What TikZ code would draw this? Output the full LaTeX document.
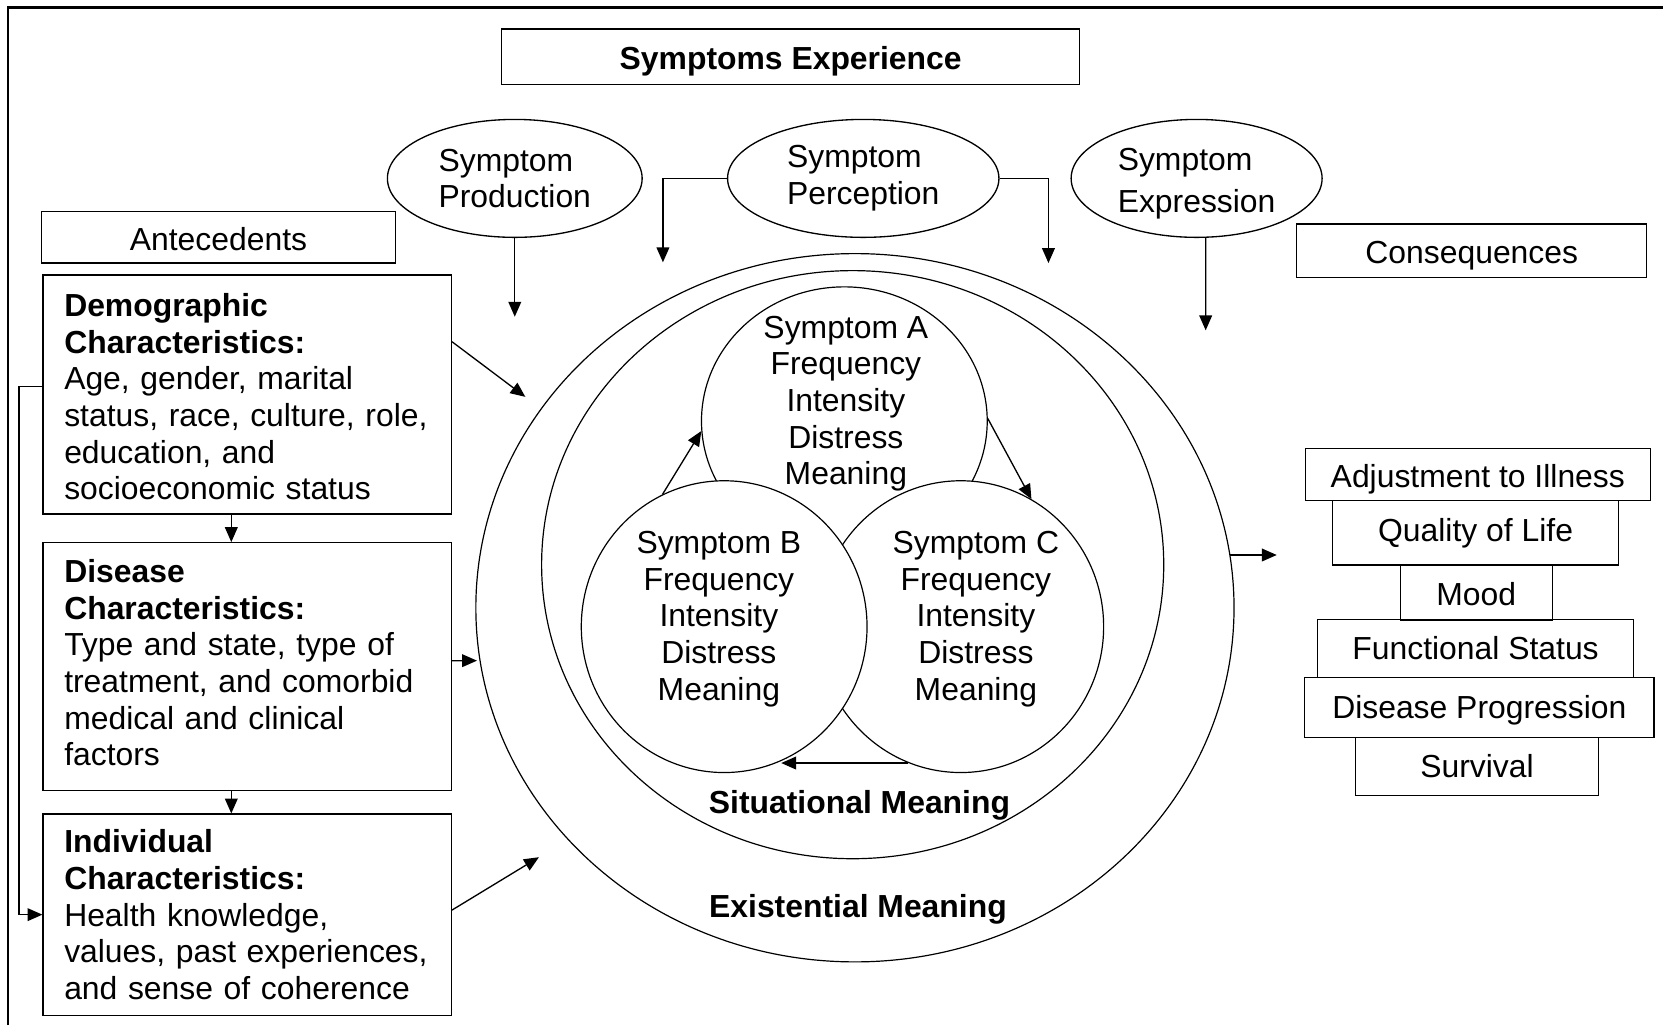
\documentclass[tikz,border=0pt]{standalone}
\usepackage{fontspec}
\setmainfont{Liberation Sans}
\usepackage{tikz}
\usetikzlibrary{arrows.meta,shapes.geometric}
\tikzset{
	labelbox/.style={draw, rectangle, inner sep=0pt, align=center, text height=9.8pt, text depth=0pt},
	factorbox/.style={draw, rectangle, inner xsep=0.28cm, inner ysep=0pt, align=left, text width=4.84cm},
	bubble/.style={draw, ellipse, inner sep=0pt, align=left},
	ring/.style={draw, ellipse, inner sep=0pt, fill=white, line width=0.45pt},
	symtext/.style={align=center, inner sep=0pt}
}

\begin{document}
\begin{tikzpicture}[line width=0.5pt, font=\fontsize{12}{13.8}\selectfont, >={Triangle[length=5.6pt,width=4.8pt]}]

	\useasboundingbox (0,0) rectangle (22,13.56);

	% Draw the frame
	\draw[line width=0.8pt] (0.11,0) -- (0.11,13.46) -- (22,13.46);

	% Title and the three stages
	\node[labelbox, minimum width=7.65cm, minimum height=0.73cm] (title) at (10.46,12.81) {\textbf{Symptoms Experience}};
	\node[bubble, minimum width=3.37cm, minimum height=1.56cm] (prod) at (6.81,11.2) {Symptom\\Production};
	\node[bubble, minimum width=3.59cm, minimum height=1.56cm] (perc) at (11.42,11.2) {Symptom\\Perception};
	\node[bubble, minimum width=3.32cm, minimum height=1.56cm, text height=28pt] (expr) at (15.83,11.2) {Symptom\\[2pt]Expression};

	% Headings of the two sides
	\node[labelbox, minimum width=4.68cm, minimum height=0.68cm] (ante) at (2.89,10.42) {Antecedents};
	\node[labelbox, minimum width=4.63cm, minimum height=0.71cm] (cons) at (19.47,10.24) {Consequences};

	% Antecedents
	\node[factorbox, minimum height=3.16cm, text height=10.4pt] (demo) at (3.27,8.34) {\textbf{Demographic}\\\textbf{Characteristics:}\\Age, gender, marital\\status, race, culture, role,\\education, and\\socioeconomic status};
	\node[factorbox, minimum height=3.28cm, text depth=72.2pt] (dis) at (3.27,4.74) {\textbf{Disease}\\\textbf{Characteristics:}\\Type and state, type of\\treatment, and comorbid\\medical and clinical\\factors};
	\node[factorbox, minimum height=2.66cm] (ind) at (3.27,1.46) {\textbf{Individual}\\\textbf{Characteristics:}\\Health knowledge,\\values, past experiences,\\and sense of coherence};

	% Meaning circles and the three symptoms
	\node[ring, minimum width=10.03cm, minimum height=9.37cm] (outer) at (11.31,5.52) {};
	\node[ring, minimum width=8.23cm, minimum height=7.78cm] (inner) at (11.28,6.09) {};
	\node[ring, minimum width=3.78cm, minimum height=3.55cm] (syma) at (11.17,7.99) {};
	\node[ring, minimum width=3.78cm, minimum height=3.86cm] (symc) at (12.71,5.27) {};
	\node[ring, minimum width=3.78cm, minimum height=3.86cm] (symb) at (9.58,5.27) {};

	\node[symtext] (atxt) at (11.19,8.22) {Symptom A\\Frequency\\Intensity\\Distress\\Meaning};
	\node[symtext] (btxt) at (9.51,5.37) {Symptom B\\Frequency\\Intensity\\Distress\\Meaning};
	\node[symtext] (ctxt) at (12.91,5.37) {Symptom C\\Frequency\\Intensity\\Distress\\Meaning};
	\node (sitm) at (11.37,2.90) {\textbf{Situational Meaning}};
	\node (exim) at (11.35,1.53) {\textbf{Existential Meaning}};

	% Consequences
	\node[labelbox, minimum width=4.56cm, minimum height=0.69cm] (adj) at (19.55,7.28) {Adjustment to Illness};
	\node[labelbox, minimum width=3.79cm, minimum height=0.85cm, text depth=3.6pt] (qol) at (19.52,6.51) {Quality of Life};
	\node[labelbox, minimum width=2.01cm, minimum height=0.72cm] (mood) at (19.53,5.72) {Mood};
	\node[labelbox, minimum width=4.18cm, minimum height=0.77cm, text depth=1.3pt] (func) at (19.52,4.98) {Functional Status};
	\node[labelbox, minimum width=4.62cm, minimum height=0.79cm, text depth=1.9pt] (prog) at (19.57,4.20) {Disease Progression};
	\node[labelbox, minimum width=3.22cm, minimum height=0.77cm, text depth=1.3pt] (surv) at (19.54,3.42) {Survival};

	% Free ends of the arrows
	\coordinate (prodend) at (6.81,9.37);
	\coordinate (percl) at (8.77,10.09);
	\coordinate (percr) at (13.87,10.08);
	\coordinate (exprend) at (15.95,9.19);
	\coordinate (loopx) at (0.25,1.46);
	\coordinate (ina) at (6.95,8.31);
	\coordinate (inb) at (6.31,4.82);
	\coordinate (inc) at (7.13,2.22);
	\coordinate (conin) at (16.89,6.19);

	% Arrows from the stages
	\draw[->] (prod.south) -- (prodend);
	\draw[->] (perc.west) -| (percl);
	\draw[->] (perc.east) -| (percr);
	\draw[->] ([xshift=0.12cm]expr.south) -- (exprend);

	% Arrows between the antecedents
	\draw[->] ([xshift=-0.21cm]demo.south) -- ([xshift=-0.21cm]dis.north);
	\draw[->] ([xshift=-0.21cm]dis.south) -- ([xshift=-0.21cm]ind.north);
	\draw[->] ([yshift=0.11cm]demo.west) -| (loopx) -- (ind.west);

	% Arrows into the experience
	\draw[->] ([yshift=0.7cm]demo.east) -- (ina);
	\draw[->] ([yshift=0.08cm]dis.east) -- (inb);
	\draw[->] ([yshift=0.06cm]ind.east) -- (inc);

	% Arrows between the symptoms
	\draw[->] (symb.115) -- (syma.184);
	\draw[->] (syma.1) -- (symc.61);
	\draw[->] (symc.249) -- (symc.249 -| symb.293);

	% Arrow to the consequences
	\draw[->] (outer.8) -- (outer.8 -| conin);

\end{tikzpicture}
\end{document}
